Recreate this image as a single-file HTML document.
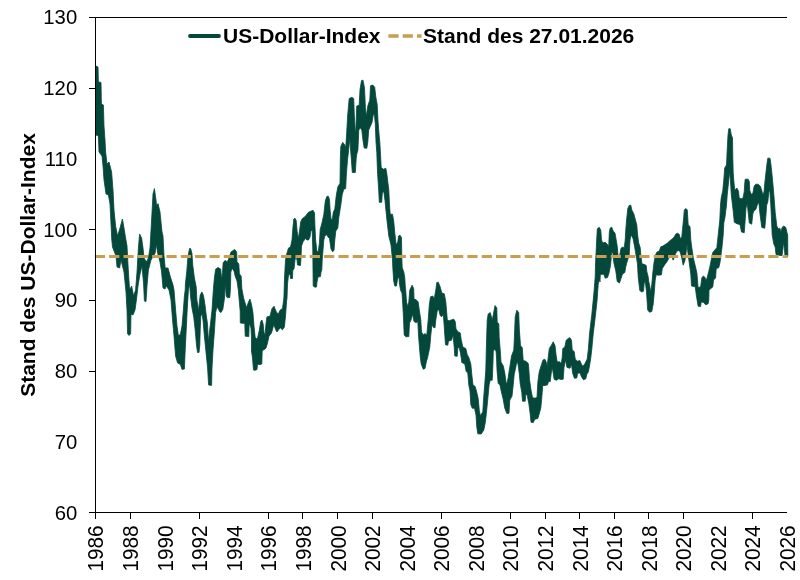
<!DOCTYPE html><html><head><meta charset="utf-8"><title>US-Dollar-Index</title>
<style>html,body{margin:0;padding:0;background:#fff}svg{display:block}text{font-family:"Liberation Sans",Arial,sans-serif;fill:#000}</style></head><body>
<svg width="800" height="580" viewBox="0 0 800 580">
<rect width="800" height="580" fill="#fff"/>
<path d="M96.0 66.0 L98.0 67.0 L98.4 82.0 L101.0 82.4 L101.4 104.0 L103.4 105.0 L104.0 126.0 L105.0 140.0 L105.6 152.0 L107.0 164.0 L109.0 162.0 L111.6 172.0 L113.0 190.0 L114.0 210.0 L115.6 226.0 L117.6 236.0 L120.0 228.0 L122.4 219.0 L124.0 228.0 L125.6 238.0 L127.0 246.0 L128.4 272.0 L129.6 290.0 L131.6 286.0 L133.6 296.0 L135.6 290.0 L137.0 272.0 L138.4 248.0 L139.6 234.0 L141.6 238.0 L143.0 248.0 L144.0 258.0 L146.4 262.0 L148.4 258.0 L150.0 248.0 L151.6 220.0 L153.0 194.0 L154.4 188.6 L156.0 200.0 L156.6 206.0 L158.0 203.6 L160.0 212.0 L162.0 232.0 L163.0 236.0 L164.0 256.0 L165.2 268.0 L168.0 268.0 L170.4 277.0 L173.0 285.0 L174.0 290.0 L175.6 310.0 L177.0 326.0 L178.4 335.6 L180.4 334.4 L182.0 326.0 L183.4 310.0 L184.4 296.0 L185.2 290.0 L185.4 284.0 L186.8 271.0 L188.0 256.0 L189.6 248.4 L190.6 248.6 L191.9 253.0 L192.8 265.5 L194.4 278.0 L196.2 286.8 L196.9 300.0 L197.8 305.0 L198.5 311.2 L199.4 302.5 L200.2 295.0 L201.9 291.9 L203.5 295.6 L205.0 305.0 L206.2 315.0 L207.5 323.8 L208.4 342.5 L209.4 332.5 L210.6 322.5 L212.0 310.0 L212.8 298.0 L213.5 288.0 L214.4 278.0 L215.6 269.2 L218.0 267.5 L220.7 269.0 L221.7 279.8 L222.5 272.6 L223.1 263.0 L224.9 260.5 L227.3 261.7 L228.5 259.3 L231.0 252.0 L234.6 249.4 L236.6 252.0 L237.0 261.7 L238.8 264.0 L239.4 273.8 L241.2 276.2 L241.8 288.3 L243.6 298.0 L245.4 304.0 L246.6 307.6 L248.2 302.8 L249.9 299.0 L251.5 304.4 L252.9 312.5 L254.0 326.2 L255.2 337.5 L257.3 339.3 L259.4 330.0 L260.6 321.9 L261.9 320.0 L263.1 323.8 L264.0 332.5 L265.0 335.0 L266.0 323.8 L266.9 316.9 L270.0 316.2 L271.9 308.8 L274.0 306.2 L276.0 311.2 L278.1 314.4 L280.2 310.0 L282.5 308.5 L283.9 298.0 L284.5 278.0 L285.5 260.0 L287.0 253.0 L288.5 248.0 L290.5 247.0 L292.0 240.0 L292.9 228.0 L293.8 219.0 L295.0 218.2 L296.2 220.5 L297.1 231.0 L298.3 238.5 L299.5 231.0 L300.7 222.0 L302.2 218.7 L304.0 217.5 L306.2 215.2 L308.5 212.2 L310.8 211.2 L313.0 210.3 L314.5 213.0 L314.9 225.0 L315.6 240.0 L316.8 250.5 L318.2 252.3 L319.4 243.0 L320.2 229.5 L322.0 222.8 L323.8 214.5 L325.3 201.0 L326.8 196.5 L328.3 196.2 L329.5 199.5 L330.1 210.0 L331.0 219.0 L332.2 219.8 L333.4 212.0 L334.8 209.0 L336.2 196.0 L337.8 187.0 L340.0 183.2 L340.3 160.0 L340.8 146.5 L342.7 142.3 L344.8 145.0 L345.7 148.0 L346.5 136.0 L347.7 115.0 L349.2 98.5 L351.8 97.3 L353.7 98.5 L354.3 115.0 L355.2 130.0 L355.8 133.0 L356.7 106.0 L359.2 105.2 L360.0 89.5 L361.5 80.5 L363.0 80.2 L364.5 88.0 L365.4 107.5 L366.3 116.5 L367.8 106.0 L369.8 100.0 L370.5 85.8 L372.8 85.0 L374.7 87.2 L375.8 97.0 L377.2 104.5 L378.0 121.0 L379.2 136.0 L379.8 142.0 L380.5 154.0 L381.2 167.5 L383.5 169.3 L385.8 168.2 L386.8 173.5 L387.7 181.0 L388.8 190.0 L389.5 205.0 L390.2 214.2 L392.5 214.2 L393.7 221.0 L394.8 233.0 L396.2 245.0 L397.8 242.0 L398.5 236.0 L400.0 235.2 L401.5 237.5 L401.8 257.0 L402.2 267.5 L403.8 272.0 L404.8 278.0 L405.3 287.0 L405.6 288.5 L406.5 302.0 L407.7 306.5 L408.8 302.0 L409.8 290.0 L412.1 285.2 L413.7 288.5 L414.0 299.0 L416.2 299.8 L418.2 302.0 L419.2 309.5 L420.8 320.0 L421.5 332.0 L423.3 335.0 L424.8 333.5 L426.8 335.0 L428.2 320.0 L429.3 305.0 L430.5 296.8 L432.8 296.0 L434.2 299.0 L435.8 290.0 L436.8 282.5 L438.3 282.2 L440.2 287.0 L441.8 293.0 L444.3 293.8 L445.8 302.0 L446.7 312.5 L447.3 320.0 L449.2 320.8 L451.2 320.0 L453.8 319.2 L455.2 321.5 L456.0 329.0 L458.2 332.0 L460.2 332.8 L461.2 339.5 L462.8 347.0 L465.8 348.5 L467.2 354.5 L468.8 357.5 L470.2 362.0 L470.8 364.0 L471.8 374.5 L473.0 385.0 L475.2 386.5 L476.8 392.5 L478.2 398.5 L479.3 410.5 L480.5 416.5 L481.2 414.2 L482.8 412.0 L483.5 400.0 L484.7 385.0 L485.8 370.0 L486.3 350.0 L487.2 320.0 L488.2 314.0 L490.2 312.5 L492.3 320.0 L495.0 305.5 L496.8 308.0 L497.2 322.2 L498.8 323.8 L499.2 338.0 L500.2 350.0 L501.0 362.0 L503.3 366.0 L504.8 373.0 L506.0 382.0 L506.8 384.2 L508.2 377.5 L509.3 370.0 L510.0 366.0 L511.5 356.0 L513.8 350.0 L514.5 335.0 L515.2 317.0 L516.8 310.2 L518.7 312.5 L519.3 329.0 L520.5 345.5 L522.3 347.8 L523.2 360.5 L525.8 361.2 L528.3 363.5 L528.8 369.0 L529.5 379.5 L531.0 390.0 L532.5 397.5 L534.8 398.2 L537.0 397.5 L537.8 382.5 L539.2 372.0 L541.5 364.5 L543.0 360.0 L544.8 359.2 L546.0 361.5 L547.2 366.0 L548.2 357.5 L549.3 348.5 L551.2 345.5 L553.2 341.8 L555.0 345.5 L556.2 356.0 L557.2 362.0 L559.5 361.7 L561.3 363.5 L562.2 357.5 L562.8 348.5 L564.8 347.0 L566.2 340.2 L568.5 338.3 L570.0 337.7 L571.5 340.2 L572.2 350.0 L574.2 351.5 L575.2 359.0 L577.5 361.2 L579.8 360.5 L581.2 363.5 L582.8 366.5 L585.0 363.5 L587.2 359.0 L588.4 349.0 L589.5 334.0 L591.8 314.5 L594.0 292.0 L595.2 277.0 L595.5 264.0 L596.7 240.0 L597.3 228.8 L599.2 227.2 L600.8 230.2 L601.5 240.0 L602.7 243.0 L605.2 242.2 L607.5 244.5 L608.7 246.8 L609.3 232.5 L610.2 228.0 L611.7 227.2 L613.2 231.0 L615.0 233.2 L616.2 240.0 L617.2 246.0 L618.0 255.0 L619.5 256.5 L621.0 248.2 L622.5 247.2 L624.3 247.5 L625.2 240.0 L625.8 229.5 L626.7 219.0 L627.8 208.5 L629.2 205.5 L630.8 205.2 L631.8 210.0 L633.8 213.8 L635.2 219.0 L636.8 225.0 L637.5 234.0 L638.7 243.0 L640.2 247.5 L640.8 255.0 L642.0 264.0 L644.2 264.3 L646.2 265.5 L646.8 271.5 L648.0 276.0 L648.8 282.0 L649.5 284.5 L650.7 292.0 L651.8 284.5 L652.8 273.0 L654.0 262.5 L655.5 255.0 L657.0 252.0 L659.2 251.2 L660.8 246.8 L663.0 246.0 L665.2 244.5 L667.5 243.0 L669.8 240.8 L672.0 239.2 L674.2 237.0 L675.8 234.0 L677.7 233.2 L679.2 234.3 L680.2 238.5 L681.8 237.0 L682.5 229.5 L683.7 217.5 L684.3 210.0 L685.8 208.5 L687.3 210.0 L688.2 225.0 L690.0 226.5 L690.8 240.0 L691.8 247.5 L693.3 258.0 L695.2 265.5 L696.9 273.0 L698.1 287.5 L700.6 286.9 L701.9 277.5 L703.5 276.0 L705.0 277.5 L706.2 280.6 L707.2 277.5 L708.8 271.2 L710.0 266.2 L711.2 260.0 L712.8 252.5 L714.8 250.0 L716.8 247.8 L718.2 235.0 L719.8 220.0 L720.5 205.0 L721.2 198.0 L722.8 190.5 L723.8 180.0 L724.7 168.0 L726.5 165.0 L727.2 150.0 L728.0 135.0 L728.8 128.7 L730.2 128.7 L731.3 135.0 L732.5 138.0 L732.8 157.5 L733.2 172.5 L734.0 183.0 L734.8 190.5 L735.8 189.0 L737.0 188.2 L738.5 191.2 L739.2 198.0 L741.5 198.8 L743.0 198.0 L744.2 192.0 L744.8 183.0 L745.2 179.2 L748.2 179.2 L749.3 181.5 L749.8 190.5 L751.2 194.2 L752.8 193.5 L754.2 186.0 L755.8 184.2 L758.0 184.2 L760.2 186.0 L761.8 190.5 L762.8 195.0 L764.0 192.0 L764.8 183.0 L765.8 174.0 L767.0 163.5 L767.8 158.2 L770.0 158.2 L770.8 163.5 L771.8 172.5 L773.0 185.0 L774.2 199.0 L775.2 212.5 L776.8 226.0 L778.2 229.0 L779.8 228.2 L781.2 232.0 L782.0 227.5 L783.8 226.0 L785.8 227.5 L786.8 232.0 L787.7 235.0 L787.8 256.0 L787.8 256.5 L785.0 256.0 L784.5 250.0 L783.5 241.8 L782.8 250.0 L782.0 255.7 L779.0 255.2 L776.0 254.5 L775.2 247.0 L773.8 244.0 L772.2 235.0 L771.5 220.0 L770.8 205.0 L769.7 190.0 L768.8 192.0 L767.8 202.0 L766.7 205.0 L765.8 217.0 L764.8 228.2 L761.8 227.5 L759.8 212.5 L758.8 202.0 L757.2 205.0 L755.8 209.5 L753.8 211.0 L752.8 214.0 L751.7 224.2 L749.3 223.0 L748.2 212.5 L747.2 203.5 L746.0 208.0 L745.2 220.0 L744.2 232.8 L741.5 232.0 L740.0 224.5 L737.0 223.8 L734.3 222.2 L733.2 211.0 L731.8 199.0 L731.3 195.0 L730.4 180.0 L729.4 171.8 L728.8 180.0 L727.2 195.0 L726.5 205.0 L725.0 217.0 L723.8 223.0 L723.2 235.0 L722.0 247.0 L721.0 255.0 L720.0 262.5 L718.8 267.5 L716.2 268.8 L715.6 278.1 L713.5 280.0 L712.8 286.9 L710.6 288.8 L709.0 290.0 L708.8 300.0 L708.1 303.8 L705.6 304.8 L703.8 302.5 L701.2 301.9 L700.6 306.5 L698.1 306.2 L696.3 295.0 L695.2 286.8 L691.5 286.0 L690.8 274.0 L689.2 262.5 L688.2 255.0 L687.0 244.5 L685.8 255.0 L684.8 261.0 L683.2 265.2 L681.8 258.0 L680.2 252.0 L678.8 250.5 L676.8 251.2 L675.0 255.0 L673.2 260.2 L671.2 255.0 L669.0 258.0 L666.8 262.0 L664.5 265.0 L662.2 268.8 L661.5 274.8 L658.5 275.2 L656.2 274.8 L655.2 280.0 L654.3 292.0 L653.2 304.0 L651.8 311.5 L649.5 312.2 L647.7 310.0 L646.5 292.0 L645.3 281.5 L644.2 283.0 L643.5 291.2 L641.7 292.0 L639.8 290.5 L638.2 277.0 L637.5 264.0 L636.0 255.0 L634.5 246.0 L633.0 238.5 L631.2 234.8 L630.0 240.0 L629.2 255.0 L627.0 262.0 L625.8 266.5 L624.8 272.5 L622.5 274.0 L621.0 278.5 L619.5 283.0 L617.2 281.5 L615.8 271.0 L613.8 262.5 L612.9 252.8 L611.7 252.8 L610.5 265.5 L609.0 273.0 L607.5 277.5 L605.2 278.2 L603.8 274.2 L600.3 274.5 L600.0 282.0 L599.2 279.2 L598.2 284.5 L597.0 301.0 L595.2 317.5 L593.2 334.0 L591.8 349.0 L590.7 358.5 L589.5 366.0 L588.3 372.0 L586.8 374.2 L585.8 378.8 L583.5 379.8 L581.7 377.2 L579.8 372.8 L577.5 373.5 L576.8 378.0 L574.5 378.3 L572.7 373.5 L571.5 364.5 L570.0 368.2 L567.0 367.5 L565.5 360.0 L564.0 367.5 L563.2 379.2 L561.0 379.5 L558.8 378.8 L556.5 380.2 L554.2 379.5 L552.3 367.5 L551.2 373.5 L550.2 381.8 L548.7 381.0 L547.5 384.8 L545.2 385.5 L542.7 385.5 L541.8 397.5 L540.8 408.0 L539.2 414.0 L537.8 418.5 L534.8 419.2 L533.2 422.7 L531.0 422.2 L530.2 414.0 L528.8 403.5 L527.2 395.2 L525.8 394.0 L525.2 401.2 L522.5 401.2 L521.8 392.5 L520.2 383.5 L519.2 373.0 L518.0 364.0 L516.8 361.8 L515.8 367.0 L514.2 374.5 L513.2 385.0 L512.0 396.2 L509.8 400.0 L509.0 413.2 L506.8 413.5 L504.8 408.2 L503.0 398.5 L501.2 391.0 L500.0 385.0 L498.2 383.5 L497.0 370.0 L496.5 357.0 L496.0 351.0 L494.6 349.2 L493.3 351.0 L493.0 361.0 L492.7 370.0 L492.2 380.2 L490.2 380.2 L489.1 385.0 L487.7 400.0 L486.5 412.0 L485.3 422.5 L483.8 430.0 L481.2 434.0 L477.8 433.8 L476.8 427.0 L476.0 415.0 L474.5 408.2 L472.2 408.2 L470.8 404.5 L470.0 391.0 L468.8 385.0 L467.8 373.0 L466.2 371.5 L464.8 364.0 L461.8 362.5 L461.5 360.0 L460.5 353.0 L459.0 347.0 L457.8 348.5 L457.2 356.3 L454.8 356.0 L454.2 347.0 L453.0 335.0 L451.5 340.2 L448.5 341.0 L447.8 345.2 L445.5 344.8 L444.8 335.0 L444.0 323.0 L443.2 314.0 L441.8 316.7 L440.2 315.5 L438.8 309.5 L437.2 311.0 L435.8 320.0 L435.0 327.8 L433.5 327.5 L432.0 324.5 L430.8 335.0 L429.8 347.0 L427.5 358.0 L426.5 361.0 L425.0 368.5 L423.2 369.2 L421.2 364.0 L420.2 356.0 L419.6 349.0 L418.5 335.0 L417.8 321.5 L416.2 322.7 L414.0 321.5 L412.5 314.0 L411.0 320.0 L409.5 323.0 L408.8 336.5 L405.8 336.8 L404.2 335.0 L403.5 318.5 L402.8 305.0 L402.0 293.0 L400.5 290.0 L399.3 282.5 L399.0 277.0 L397.5 279.0 L396.5 286.0 L394.8 286.0 L393.7 281.0 L392.8 267.5 L392.5 260.0 L391.0 245.0 L388.8 236.0 L387.2 222.5 L385.8 209.0 L385.0 200.5 L383.8 191.5 L382.3 193.0 L381.7 202.3 L379.3 202.3 L378.7 190.0 L377.5 172.0 L376.8 152.5 L376.0 142.0 L375.3 124.0 L374.4 114.2 L373.2 115.0 L372.0 122.5 L370.2 126.7 L368.7 130.0 L367.8 142.0 L366.8 148.3 L364.2 148.0 L363.0 140.5 L361.8 130.0 L360.3 127.8 L358.8 130.0 L357.9 150.0 L356.8 154.0 L356.2 158.5 L355.3 172.5 L352.3 172.5 L351.4 160.0 L350.6 150.0 L349.9 138.0 L348.7 149.5 L347.5 160.0 L346.3 175.0 L345.7 188.5 L343.8 189.2 L342.2 194.5 L340.8 205.0 L340.0 210.0 L338.8 217.5 L337.8 228.0 L335.8 231.0 L334.8 240.0 L334.0 250.5 L332.5 251.7 L331.0 249.0 L329.5 238.5 L328.0 237.0 L326.8 234.8 L325.0 235.5 L323.8 240.0 L323.0 250.0 L322.2 260.0 L321.8 270.0 L321.0 272.0 L320.5 276.5 L318.0 277.0 L317.0 282.0 L316.5 287.0 L315.0 287.2 L313.2 286.0 L313.0 270.0 L312.8 250.0 L312.6 243.0 L312.2 230.2 L310.8 231.0 L310.0 237.0 L308.5 240.0 L307.0 240.0 L305.5 238.5 L303.2 241.5 L301.5 246.0 L301.0 258.0 L300.5 265.5 L297.5 265.0 L297.0 260.0 L296.0 256.0 L295.0 260.0 L294.0 269.0 L292.8 270.0 L292.5 278.5 L290.5 278.5 L290.0 274.0 L288.5 275.0 L287.5 284.0 L287.0 298.0 L286.5 302.0 L285.6 315.0 L284.4 327.0 L282.5 329.8 L280.5 328.0 L279.0 329.0 L277.5 331.5 L276.5 331.5 L275.5 329.0 L273.8 324.5 L271.5 333.0 L269.0 336.0 L267.5 343.0 L266.0 348.0 L264.5 349.6 L263.5 350.0 L262.2 351.0 L261.8 364.0 L260.0 364.6 L257.5 364.2 L257.0 369.5 L255.0 370.3 L253.5 370.0 L252.5 358.0 L251.5 351.0 L251.5 338.0 L251.0 328.0 L250.4 326.0 L249.2 323.8 L248.8 336.5 L245.2 336.2 L244.8 323.5 L240.3 323.0 L240.2 311.2 L239.4 302.5 L238.4 290.7 L237.0 281.0 L235.2 276.2 L234.0 271.0 L232.2 268.4 L230.8 272.0 L230.5 287.5 L229.8 297.5 L227.5 297.8 L226.2 296.2 L225.4 283.0 L224.4 298.8 L222.8 309.4 L221.0 312.5 L219.8 311.9 L218.5 309.4 L216.9 306.9 L215.6 312.5 L214.5 330.0 L213.0 350.0 L212.0 368.0 L211.6 385.4 L208.6 385.0 L207.6 368.0 L206.0 352.0 L204.4 336.0 L203.0 320.0 L202.0 314.0 L200.8 316.0 L200.2 330.0 L199.8 345.0 L199.0 352.5 L197.5 352.5 L196.5 345.0 L195.2 330.0 L193.8 317.5 L191.9 307.5 L190.5 296.0 L189.6 284.0 L188.4 290.0 L187.2 310.0 L186.2 330.0 L185.2 350.0 L184.4 369.0 L182.0 369.4 L180.4 364.4 L177.6 363.0 L175.6 356.0 L174.0 336.0 L172.4 318.0 L171.0 300.0 L169.0 290.0 L166.4 286.0 L165.0 289.0 L163.0 288.0 L161.6 272.0 L160.0 262.0 L157.6 253.0 L156.4 244.0 L155.2 253.0 L154.0 255.0 L151.0 260.0 L148.4 270.0 L147.0 286.0 L146.0 301.6 L144.4 301.0 L143.6 284.0 L142.0 266.0 L140.0 274.0 L138.0 286.0 L136.4 300.0 L135.0 310.0 L133.0 315.0 L131.0 314.0 L130.6 334.0 L129.0 335.4 L127.6 334.0 L127.0 310.0 L126.0 292.0 L124.0 272.0 L121.0 260.0 L119.6 268.0 L117.0 267.0 L116.0 256.0 L112.5 247.0 L111.8 240.0 L111.0 224.0 L110.0 204.0 L108.4 195.0 L106.0 194.0 L104.0 180.0 L103.0 166.0 L102.0 156.0 L99.0 152.0 L98.4 136.0 L96.0 135.0 L96.0 66.0Z" fill="#04483b" stroke="#04483b" stroke-width="0.8" stroke-linejoin="round"/>
<line x1="94.8" y1="256.5" x2="787.7" y2="256.5" stroke="#c89f4e" stroke-width="3" stroke-dasharray="10.2 4.13"/>
<path d="M95.5 17 V512.5 M89 17.5 H787 M95.5 512.5 H787 M89 88.5 H96 M89 229.5 H96 M89 300.5 H96 M89 371.5 H96 M89 512.5 H96 M95.5 512.5 V518.5 M130.5 512.5 V518.5 M199.5 512.5 V518.5 M268.5 512.5 V518.5 M302.5 512.5 V518.5 M337.5 512.5 V518.5 M372.5 512.5 V518.5 M441.5 512.5 V518.5 M510.5 512.5 V518.5 M545.5 512.5 V518.5 M579.5 512.5 V518.5 M614.5 512.5 V518.5 M648.5 512.5 V518.5 M683.5 512.5 V518.5 M752.5 512.5 V518.5" fill="none" stroke="#000" stroke-width="1" shape-rendering="crispEdges"/>
<text x="77.2" y="519.7" font-size="20.3" text-anchor="end">60</text>
<text x="77.2" y="448.9" font-size="20.3" text-anchor="end">70</text>
<text x="77.2" y="378.2" font-size="20.3" text-anchor="end">80</text>
<text x="77.2" y="307.4" font-size="20.3" text-anchor="end">90</text>
<text x="77.2" y="236.7" font-size="20.3" text-anchor="end">100</text>
<text x="77.2" y="165.9" font-size="20.3" text-anchor="end">110</text>
<text x="77.2" y="95.2" font-size="20.3" text-anchor="end">120</text>
<text x="77.2" y="24.4" font-size="20.3" text-anchor="end">130</text>
<text transform="translate(103.4 571.6) rotate(-90) scale(1,1.06)" font-size="20.8">1986</text>
<text transform="translate(138.0 571.6) rotate(-90) scale(1,1.06)" font-size="20.8">1988</text>
<text transform="translate(172.6 571.6) rotate(-90) scale(1,1.06)" font-size="20.8">1990</text>
<text transform="translate(207.1 571.6) rotate(-90) scale(1,1.06)" font-size="20.8">1992</text>
<text transform="translate(241.7 571.6) rotate(-90) scale(1,1.06)" font-size="20.8">1994</text>
<text transform="translate(276.3 571.6) rotate(-90) scale(1,1.06)" font-size="20.8">1996</text>
<text transform="translate(310.9 571.6) rotate(-90) scale(1,1.06)" font-size="20.8">1998</text>
<text transform="translate(345.5 571.6) rotate(-90) scale(1,1.06)" font-size="20.8">2000</text>
<text transform="translate(380.0 571.6) rotate(-90) scale(1,1.06)" font-size="20.8">2002</text>
<text transform="translate(414.6 571.6) rotate(-90) scale(1,1.06)" font-size="20.8">2004</text>
<text transform="translate(449.2 571.6) rotate(-90) scale(1,1.06)" font-size="20.8">2006</text>
<text transform="translate(483.8 571.6) rotate(-90) scale(1,1.06)" font-size="20.8">2008</text>
<text transform="translate(518.4 571.6) rotate(-90) scale(1,1.06)" font-size="20.8">2010</text>
<text transform="translate(552.9 571.6) rotate(-90) scale(1,1.06)" font-size="20.8">2012</text>
<text transform="translate(587.5 571.6) rotate(-90) scale(1,1.06)" font-size="20.8">2014</text>
<text transform="translate(622.1 571.6) rotate(-90) scale(1,1.06)" font-size="20.8">2016</text>
<text transform="translate(656.7 571.6) rotate(-90) scale(1,1.06)" font-size="20.8">2018</text>
<text transform="translate(691.3 571.6) rotate(-90) scale(1,1.06)" font-size="20.8">2020</text>
<text transform="translate(725.8 571.6) rotate(-90) scale(1,1.06)" font-size="20.8">2022</text>
<text transform="translate(760.4 571.6) rotate(-90) scale(1,1.06)" font-size="20.8">2024</text>
<text transform="translate(795.0 571.6) rotate(-90) scale(1,1.06)" font-size="20.8">2026</text>
<text transform="translate(35.3 265) rotate(-90)" font-size="21" font-weight="bold" text-anchor="middle" id="ytitle">Stand des US-Dollar-Index</text>
<line x1="190" y1="36" x2="219" y2="36" stroke="#04483b" stroke-width="3.8" stroke-linecap="round"/>
<text x="223" y="42.6" font-size="21" font-weight="bold" id="leg1">US-Dollar-Index</text>
<line x1="388.4" y1="36" x2="421.6" y2="36" stroke="#c89f4e" stroke-width="3.4" stroke-dasharray="10.2 4.08"/>
<text x="423" y="42.6" font-size="21" font-weight="bold" id="leg2">Stand des 27.01.2026</text>
</svg></body></html>
